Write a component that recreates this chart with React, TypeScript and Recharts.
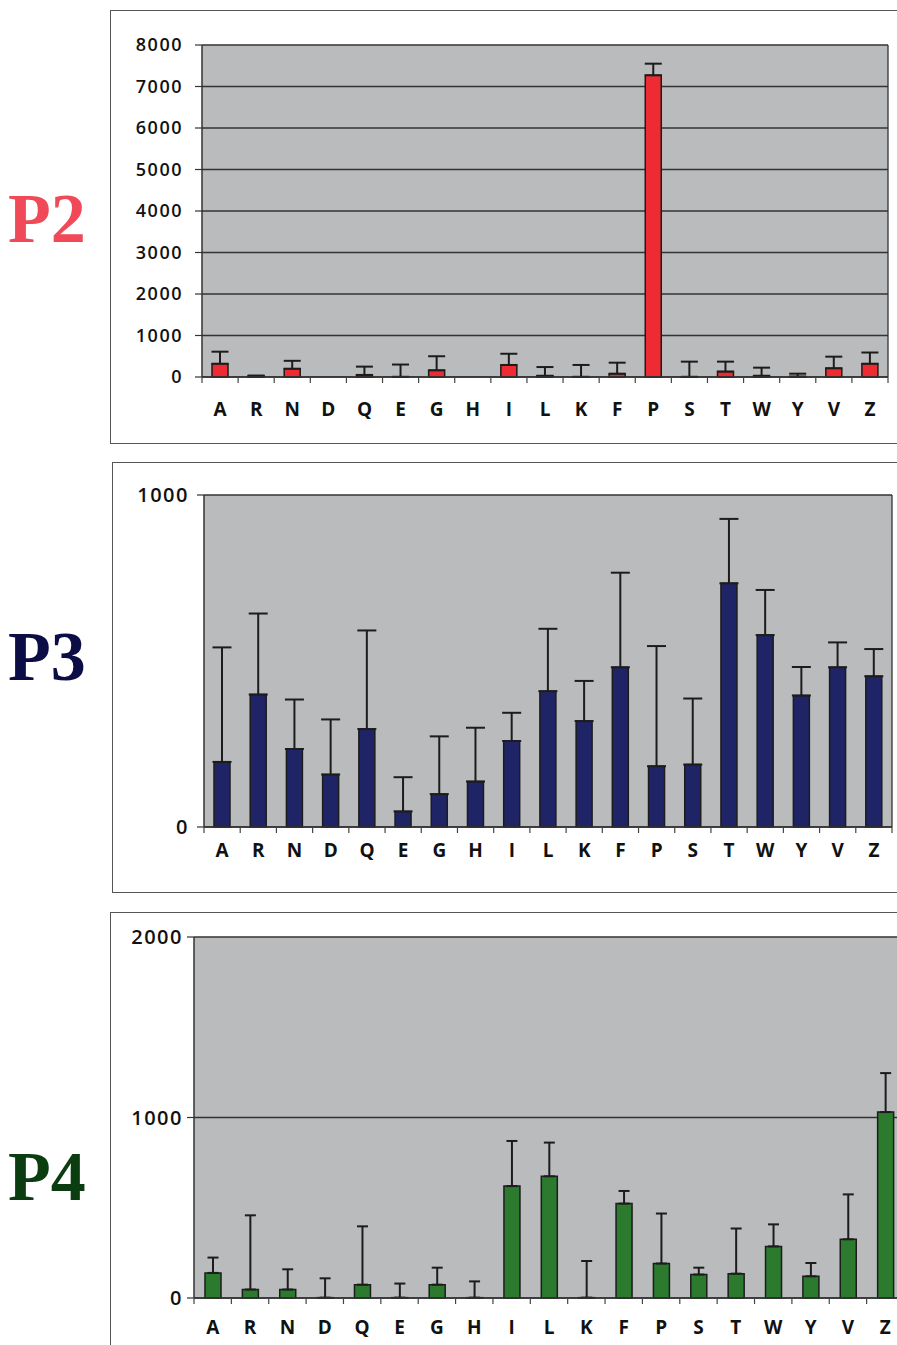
import { BarChart, Bar, XAxis, YAxis, CartesianGrid, ErrorBar } from 'recharts';

const categories = ['A', 'R', 'N', 'D', 'Q', 'E', 'G', 'H', 'I', 'L', 'K', 'F', 'P', 'S', 'T', 'W', 'Y', 'V', 'Z'];

// bars that look empty but carry a whisker are read as a few units so the whisker still draws
const p2Values = [320, 20, 200, 0, 50, 5, 160, 0, 290, 30, 5, 80, 7270, 5, 130, 30, 10, 210, 320];
const p2Errors = [290, 15, 190, 0, 200, 295, 340, 0, 270, 210, 285, 265, 280, 365, 240, 195, 70, 280, 270];
const p2Ticks = [0, 1000, 2000, 3000, 4000, 5000, 6000, 7000, 8000];

const p3Values = [196, 399, 235, 158, 295, 47, 99, 137, 259, 409, 319, 481, 183, 188, 734, 578, 396, 481, 454];
const p3Errors = [345, 244, 149, 166, 297, 103, 174, 162, 85, 188, 121, 285, 362, 199, 194, 136, 86, 75, 82];
const p3Ticks = [0, 1000];

const p4Values = [139, 47, 47, 2, 74, 2, 74, 2, 620, 674, 2, 523, 191, 130, 135, 286, 120, 325, 1030];
const p4Errors = [85, 411, 112, 107, 323, 78, 94, 90, 250, 187, 203, 70, 277, 38, 250, 122, 74, 249, 216];
const p4Ticks = [0, 1000, 2000];

const PLOT_BG = '#babbbc';
const INK = '#1c1c1c';
const FONT = '"Open Sans", "DejaVu Sans", sans-serif';

type Row = { name: string; value: number; err: [number, number] };

const toRows = (values: number[], errors: number[]): Row[] =>
  categories.map((name, i) => ({ name, value: values[i], err: [0, errors[i]] }));

function CategoryTick(props: any) {
  const { x, y, payload, labelDy } = props;
  const half = payload?.offset ?? 0;
  const last = payload?.value === categories[categories.length - 1];
  return (
    <g>
      <line x1={x - half} x2={x - half} y1={y} y2={y + 6} stroke="#444" strokeWidth={1.2} />
      {last && <line x1={x + half} x2={x + half} y1={y} y2={y + 6} stroke="#444" strokeWidth={1.2} />}
      <text
        x={x}
        y={y + labelDy}
        textAnchor="middle"
        dominantBaseline="central"
        fontFamily={FONT}
        fontWeight={700}
        fontSize={19}
        fill="#111"
      >
        {payload.value}
      </text>
    </g>
  );
}

type PanelProps = {
  rows: Row[];
  color: string;
  ticks: number[];
  left: number;
  top: number;
  width: number;
  height: number;
  yWidth: number;
  margin: { top: number; right: number; bottom: number };
  tickMargin: number;
  yFont: number;
  labelDy: number;
  capHalf: number;
};

function Panel(p: PanelProps) {
  const { rows, color, ticks, left, top, width, height, yWidth, margin, tickMargin, yFont, labelDy, capHalf } = p;
  return (
    <div
      style={{
        position: 'absolute',
        left,
        top,
        width,
        height,
        background: '#fff',
        border: '1px solid #555',
        boxSizing: 'border-box',
      }}
    >
      <div style={{ position: 'absolute', left: -1, top: -1 }}>
        <BarChart
          width={width}
          height={height}
          data={rows}
          margin={{ top: margin.top, right: margin.right, bottom: margin.bottom, left: 0 }}
          barCategoryGap={0}
        >
          <CartesianGrid
            fill={PLOT_BG}
            fillOpacity={1}
            stroke="#333"
            strokeWidth={1.3}
            vertical
            verticalCoordinatesGenerator={({ offset }: any) => [offset.left + offset.width]}
          />
          <XAxis
            dataKey="name"
            interval={0}
            tickLine={false}
            tickSize={0}
            tickMargin={0}
            axisLine={{ stroke: '#333', strokeWidth: 1.5 }}
            tick={(t: any) => <CategoryTick {...t} labelDy={labelDy} />}
            height={30}
          />
          <YAxis
            domain={[ticks[0], ticks[ticks.length - 1]]}
            ticks={ticks}
            interval={0}
            width={yWidth}
            tickSize={7}
            tickMargin={tickMargin}
            axisLine={{ stroke: '#333', strokeWidth: 1.5 }}
            tickLine={{ stroke: '#333', strokeWidth: 1.2 }}
            tick={{ fill: '#111', fontSize: yFont, fontFamily: FONT, fontWeight: 600, letterSpacing: 1.5 }}
          />
          <Bar dataKey="value" fill={color} stroke={INK} strokeWidth={1.5} barSize={16} isAnimationActive={false}>
            <ErrorBar dataKey="err" direction="y" width={capHalf} stroke={INK} strokeWidth={2} />
          </Bar>
        </BarChart>
      </div>
    </div>
  );
}

function SideLabel({ text, color, top }: { text: string; color: string; top: number }) {
  return (
    <div
      style={{
        position: 'absolute',
        left: 8,
        top,
        fontFamily: '"Liberation Serif", "Times New Roman", serif',
        fontWeight: 700,
        fontSize: 70,
        lineHeight: '70px',
        color,
      }}
    >
      {text}
    </div>
  );
}

export default function App() {
  return (
    <div
      style={{
        position: 'absolute',
        left: 0,
        top: 0,
        width: 897,
        height: 1345,
        overflow: 'hidden',
        background: '#fff',
      }}
    >
      <SideLabel text="P2" color="#f04a58" top={184} />
      <SideLabel text="P3" color="#0d0d45" top={622} />
      <SideLabel text="P4" color="#0b3d10" top={1142} />

      <Panel
        rows={toRows(p2Values, p2Errors)}
        color="#ee2b33"
        ticks={p2Ticks}
        left={110}
        top={10}
        width={820}
        height={434}
        yWidth={92}
        margin={{ top: 35, right: 42, bottom: 37 }}
        tickMargin={12}
        yFont={18}
        labelDy={32}
        capHalf={8.5}
      />
      <Panel
        rows={toRows(p3Values, p3Errors)}
        color="#1f2466"
        ticks={p3Ticks}
        left={112}
        top={462}
        width={820}
        height={431}
        yWidth={92}
        margin={{ top: 33, right: 40, bottom: 36 }}
        tickMargin={8}
        yFont={20}
        labelDy={23}
        capHalf={9.5}
      />
      <Panel
        rows={toRows(p4Values, p4Errors)}
        color="#2b7a2e"
        ticks={p4Ticks}
        left={110}
        top={912}
        width={830}
        height={460}
        yWidth={84}
        margin={{ top: 25, right: 36, bottom: 44 }}
        tickMargin={4}
        yFont={20}
        labelDy={29}
        capHalf={5.5}
      />
    </div>
  );
}
